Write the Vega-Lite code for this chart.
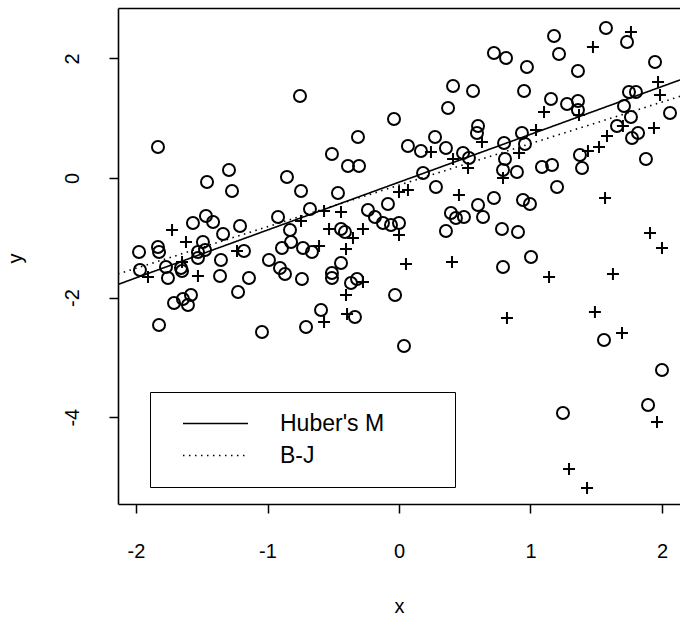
{
  "$schema": "https://vega.github.io/schema/vega-lite/v6.json",
  "width": 562,
  "height": 496,
  "autosize": {"type": "none"},
  "padding": {"left": 118, "top": 8, "right": 0, "bottom": 113},
  "background": "white",
  "config": {
    "view": {"stroke": null},
    "font": "Liberation Sans",
    "axis": {
      "grid": false,
      "domainColor": "black",
      "domainWidth": 1.6,
      "tickColor": "black",
      "tickWidth": 1.5,
      "tickSize": 9,
      "labelColor": "black",
      "labelFontSize": 20,
      "labelFont": "Liberation Sans",
      "titleColor": "black",
      "titleFontSize": 20,
      "titleFont": "Liberation Sans",
      "titleFontWeight": "normal"
    }
  },
  "datasets": {
    "points": [
      {"x": -1.833, "y": 0.518, "s": "o"}, {"x": -1.293, "y": 0.134, "s": "o"}, {"x": -1.46, "y": -0.067, "s": "o"}, {"x": -1.27, "y": -0.217, "s": "o"}, {"x": -0.852, "y": 0.017, "s": "o"}, {"x": -0.753, "y": 1.371, "s": "o"}, {"x": -0.745, "y": -0.217, "s": "o"}, {"x": 0.722, "y": 2.09, "s": "o"}, {"x": 0.411, "y": 1.538, "s": "o"}, {"x": 0.563, "y": 1.455, "s": "o"}, {"x": 0.373, "y": 1.171, "s": "o"}, {"x": -0.038, "y": 0.987, "s": "o"}, {"x": 0.274, "y": 0.686, "s": "o"}, {"x": -0.312, "y": 0.686, "s": "o"}, {"x": -0.51, "y": 0.401, "s": "o"}, {"x": 0.068, "y": 0.535, "s": "o"}, {"x": 0.167, "y": 0.452, "s": "o"}, {"x": 0.357, "y": 0.502, "s": "o"}, {"x": 0.487, "y": 0.418, "s": "o"}, {"x": 0.532, "y": 0.334, "s": "o"}, {"x": -0.388, "y": 0.201, "s": "o"}, {"x": -0.304, "y": 0.201, "s": "o"}, {"x": 0.183, "y": 0.084, "s": "o"}, {"x": 0.281, "y": -0.15, "s": "o"}, {"x": -0.464, "y": -0.251, "s": "o"}, {"x": 0.601, "y": 0.87, "s": "o"}, {"x": 0.593, "y": 0.752, "s": "o"}, {"x": 0.722, "y": -0.334, "s": "o"}, {"x": 1.574, "y": 2.508, "s": "o"}, {"x": 1.734, "y": 2.274, "s": "o"}, {"x": 1.179, "y": 2.375, "s": "o"}, {"x": 0.814, "y": 2.007, "s": "o"}, {"x": 1.217, "y": 2.074, "s": "o"}, {"x": 0.973, "y": 1.856, "s": "o"}, {"x": 1.361, "y": 1.789, "s": "o"}, {"x": 1.947, "y": 1.94, "s": "o"}, {"x": 0.951, "y": 1.455, "s": "o"}, {"x": 1.156, "y": 1.321, "s": "o"}, {"x": 1.278, "y": 1.237, "s": "o"}, {"x": 1.361, "y": 1.288, "s": "o"}, {"x": 1.361, "y": 1.137, "s": "o"}, {"x": 1.749, "y": 1.438, "s": "o"}, {"x": 1.802, "y": 1.438, "s": "o"}, {"x": 1.711, "y": 1.204, "s": "o"}, {"x": 1.764, "y": 1.02, "s": "o"}, {"x": 1.658, "y": 0.87, "s": "o"}, {"x": 2.061, "y": 1.087, "s": "o"}, {"x": 1.818, "y": 0.752, "s": "o"}, {"x": 1.772, "y": 0.669, "s": "o"}, {"x": 0.935, "y": 0.752, "s": "o"}, {"x": 0.799, "y": 0.585, "s": "o"}, {"x": 0.958, "y": 0.569, "s": "o"}, {"x": 0.806, "y": 0.318, "s": "o"}, {"x": 0.791, "y": 0.134, "s": "o"}, {"x": 0.897, "y": 0.1, "s": "o"}, {"x": 1.087, "y": 0.184, "s": "o"}, {"x": 1.164, "y": 0.217, "s": "o"}, {"x": 1.376, "y": 0.385, "s": "o"}, {"x": 1.392, "y": 0.167, "s": "o"}, {"x": 1.878, "y": 0.318, "s": "o"}, {"x": 1.202, "y": -0.15, "s": "o"}, {"x": 0.943, "y": -0.368, "s": "o"}, {"x": 0.996, "y": -0.435, "s": "o"},
      {"x": -1.977, "y": -1.237, "s": "o"}, {"x": -1.833, "y": -1.154, "s": "o"}, {"x": -1.825, "y": -1.237, "s": "o"}, {"x": -1.567, "y": -0.752, "s": "o"}, {"x": -1.468, "y": -0.635, "s": "o"}, {"x": -1.414, "y": -0.736, "s": "o"}, {"x": -1.338, "y": -0.936, "s": "o"}, {"x": -1.209, "y": -0.803, "s": "o"}, {"x": -0.92, "y": -0.652, "s": "o"}, {"x": -0.829, "y": -0.87, "s": "o"}, {"x": -0.821, "y": -1.07, "s": "o"}, {"x": -0.89, "y": -1.171, "s": "o"}, {"x": -1.491, "y": -1.07, "s": "o"}, {"x": -1.475, "y": -1.204, "s": "o"}, {"x": -1.529, "y": -1.237, "s": "o"}, {"x": -1.529, "y": -1.338, "s": "o"}, {"x": -1.179, "y": -1.221, "s": "o"}, {"x": -1.354, "y": -1.371, "s": "o"}, {"x": -1.97, "y": -1.538, "s": "o"}, {"x": -1.772, "y": -1.488, "s": "o"}, {"x": -1.757, "y": -1.672, "s": "o"}, {"x": -1.658, "y": -1.505, "s": "o"}, {"x": -1.65, "y": -1.555, "s": "o"}, {"x": -1.361, "y": -1.639, "s": "o"}, {"x": -1.141, "y": -1.672, "s": "o"}, {"x": -0.989, "y": -1.371, "s": "o"}, {"x": -0.905, "y": -1.505, "s": "o"}, {"x": -0.867, "y": -1.605, "s": "o"}, {"x": -1.224, "y": -1.906, "s": "o"}, {"x": -1.711, "y": -2.09, "s": "o"}, {"x": -1.643, "y": -2.023, "s": "o"}, {"x": -1.582, "y": -1.956, "s": "o"}, {"x": -1.605, "y": -2.124, "s": "o"}, {"x": -1.825, "y": -2.458, "s": "o"}, {"x": -1.042, "y": -2.575, "s": "o"}, {"x": -0.738, "y": -1.689, "s": "o"},
      {"x": -0.677, "y": -0.518, "s": "o"}, {"x": -0.236, "y": -0.535, "s": "o"}, {"x": -0.084, "y": -0.435, "s": "o"}, {"x": -0.183, "y": -0.652, "s": "o"}, {"x": -0.122, "y": -0.752, "s": "o"}, {"x": -0.061, "y": -0.786, "s": "o"}, {"x": 0.0, "y": -0.752, "s": "o"}, {"x": -0.441, "y": -0.853, "s": "o"}, {"x": -0.411, "y": -0.903, "s": "o"}, {"x": 0.395, "y": -0.585, "s": "o"}, {"x": 0.433, "y": -0.669, "s": "o"}, {"x": 0.494, "y": -0.652, "s": "o"}, {"x": 0.357, "y": -0.886, "s": "o"}, {"x": 0.601, "y": -0.452, "s": "o"}, {"x": 0.639, "y": -0.652, "s": "o"}, {"x": 0.783, "y": -0.853, "s": "o"}, {"x": 0.905, "y": -0.903, "s": "o"}, {"x": -0.73, "y": -1.171, "s": "o"}, {"x": -0.662, "y": -1.237, "s": "o"}, {"x": -0.441, "y": -1.421, "s": "o"}, {"x": -0.51, "y": -1.589, "s": "o"}, {"x": -0.51, "y": -1.672, "s": "o"}, {"x": -0.365, "y": -1.756, "s": "o"}, {"x": -0.319, "y": -1.689, "s": "o"}, {"x": -0.03, "y": -1.956, "s": "o"}, {"x": -0.593, "y": -2.207, "s": "o"}, {"x": -0.335, "y": -2.324, "s": "o"}, {"x": -0.707, "y": -2.492, "s": "o"}, {"x": 0.038, "y": -2.809, "s": "o"}, {"x": 0.791, "y": -1.488, "s": "o"}, {"x": 1.004, "y": -1.321, "s": "o"}, {"x": 1.559, "y": -2.709, "s": "o"}, {"x": 2.0, "y": -3.211, "s": "o"}, {"x": 1.894, "y": -3.796, "s": "o"}, {"x": 1.247, "y": -3.93, "s": "o"},
      {"x": 0.243, "y": 0.435, "s": "+"}, {"x": 0.411, "y": 0.318, "s": "+"}, {"x": 0.525, "y": 0.167, "s": "+"}, {"x": 0.631, "y": 0.602, "s": "+"}, {"x": 0.0, "y": -0.234, "s": "+"}, {"x": 0.068, "y": -0.201, "s": "+"}, {"x": 0.456, "y": -0.284, "s": "+"}, {"x": 1.764, "y": 2.441, "s": "+"}, {"x": 1.475, "y": 2.191, "s": "+"}, {"x": 1.103, "y": 1.104, "s": "+"}, {"x": 1.042, "y": 0.803, "s": "+"}, {"x": 0.913, "y": 0.418, "s": "+"}, {"x": 0.791, "y": 0.0, "s": "+"}, {"x": 1.369, "y": 1.054, "s": "+"}, {"x": 1.582, "y": 0.702, "s": "+"}, {"x": 1.437, "y": 0.452, "s": "+"}, {"x": 1.521, "y": 0.518, "s": "+"}, {"x": 1.703, "y": 0.87, "s": "+"}, {"x": 1.939, "y": 0.836, "s": "+"}, {"x": 1.97, "y": 1.605, "s": "+"}, {"x": 1.985, "y": 1.388, "s": "+"}, {"x": 1.567, "y": -0.334, "s": "+"}, {"x": -1.726, "y": -0.87, "s": "+"}, {"x": -1.62, "y": -1.07, "s": "+"}, {"x": -1.909, "y": -1.656, "s": "+"}, {"x": -1.529, "y": -1.639, "s": "+"}, {"x": -1.65, "y": -1.405, "s": "+"}, {"x": -1.232, "y": -1.221, "s": "+"}, {"x": -0.441, "y": -0.569, "s": "+"}, {"x": -0.57, "y": -0.552, "s": "+"}, {"x": -0.532, "y": -0.853, "s": "+"}, {"x": -0.274, "y": -0.853, "s": "+"}, {"x": -0.35, "y": -1.003, "s": "+"}, {"x": 0.0, "y": -0.953, "s": "+"}, {"x": -0.608, "y": -1.137, "s": "+"}, {"x": -0.403, "y": -1.187, "s": "+"}, {"x": 0.053, "y": -1.438, "s": "+"}, {"x": 0.403, "y": -1.405, "s": "+"}, {"x": -0.274, "y": -1.739, "s": "+"}, {"x": -0.403, "y": -1.956, "s": "+"}, {"x": -0.57, "y": -2.408, "s": "+"}, {"x": -0.395, "y": -2.274, "s": "+"}, {"x": 1.909, "y": -0.92, "s": "+"}, {"x": 2.0, "y": -1.171, "s": "+"}, {"x": 1.141, "y": -1.656, "s": "+"}, {"x": 1.627, "y": -1.605, "s": "+"}, {"x": 0.821, "y": -2.341, "s": "+"}, {"x": 1.49, "y": -2.241, "s": "+"}, {"x": 1.696, "y": -2.592, "s": "+"}, {"x": 1.962, "y": -4.08, "s": "+"}, {"x": 1.293, "y": -4.866, "s": "+"}, {"x": 1.43, "y": -5.184, "s": "+"}, {"x": -0.745, "y": -0.719, "s": "+"}
    ],
    "lines": [
      {"method": "Huber's M", "x": -2.137, "y": -1.78},
      {"method": "Huber's M", "x": 2.137, "y": 1.64},
      {"method": "B-J", "x": -2.137, "y": -1.605},
      {"method": "B-J", "x": 2.137, "y": 1.365}
    ]
  },
  "layer": [
    {
      "data": {"name": "points"},
      "mark": {"type": "point", "clip": true, "filled": false, "color": "black", "opacity": 1, "strokeWidth": 2, "size": 144},
      "encoding": {
        "x": {"field": "x", "type": "quantitative", "scale": {"domain": [-2.137, 2.137], "nice": false, "zero": false},
              "axis": {"orient": "bottom", "values": [-2, -1, 0, 1, 2], "format": "d", "labelExpr": "replace(datum.label, '\u2212', '-')", "labelPadding": 28, "labelBaseline": "top", "title": "x", "titleBaseline": "middle", "titleY": 102, "titleX": 281}},
        "y": {"field": "y", "type": "quantitative", "scale": {"domain": [-5.452, 2.843], "nice": false, "zero": false},
              "axis": {"orient": "left", "values": [-4, -2, 0, 2], "format": "d", "labelExpr": "replace(datum.label, '\u2212', '-')", "labelAngle": 270, "labelAlign": "center", "labelBaseline": "bottom", "labelPadding": 27, "title": "y", "titleAngle": 270, "titleBaseline": "middle", "titleX": -103, "titleY": 250}},
        "shape": {"field": "s", "type": "nominal", "scale": {"domain": ["o", "+"], "range": ["circle", "M-1,0L1,0M0,-1L0,1"]}, "legend": null}
      }
    },
    {
      "data": {"name": "lines"},
      "mark": {"type": "line", "clip": true, "color": "black", "strokeWidth": 1.6},
      "encoding": {
        "x": {"field": "x", "type": "quantitative", "axis": {"orient": "top", "labels": false, "ticks": false, "title": null}},
        "y": {"field": "y", "type": "quantitative"},
        "strokeDash": {
          "field": "method", "type": "nominal",
          "scale": {"domain": ["Huber's M", "B-J"], "range": [[1, 0], [1.5, 4.5]]},
          "legend": {
            "orient": "none", "legendX": 32, "legendY": 384, "title": null,
            "strokeColor": "black", "padding": 19.5, "fillColor": "white",
            "symbolType": "M-3,0L3,0", "symbolSize": 470, "symbolStrokeWidth": 1.5, "symbolStrokeColor": "black", "symbolOffset": 34,
            "labelFontSize": 23, "labelFont": "Liberation Sans", "labelColor": "black", "labelOffset": 52.5, "rowPadding": 8, "labelLimit": 600,
            "labelExpr": "datum.label + '\u00a0\u00a0\u00a0\u00a0\u00a0\u00a0\u00a0\u00a0\u200b'"
          }
        }
      }
    }
  ],
  "resolve": {"axis": {"x": "independent"}}
}
